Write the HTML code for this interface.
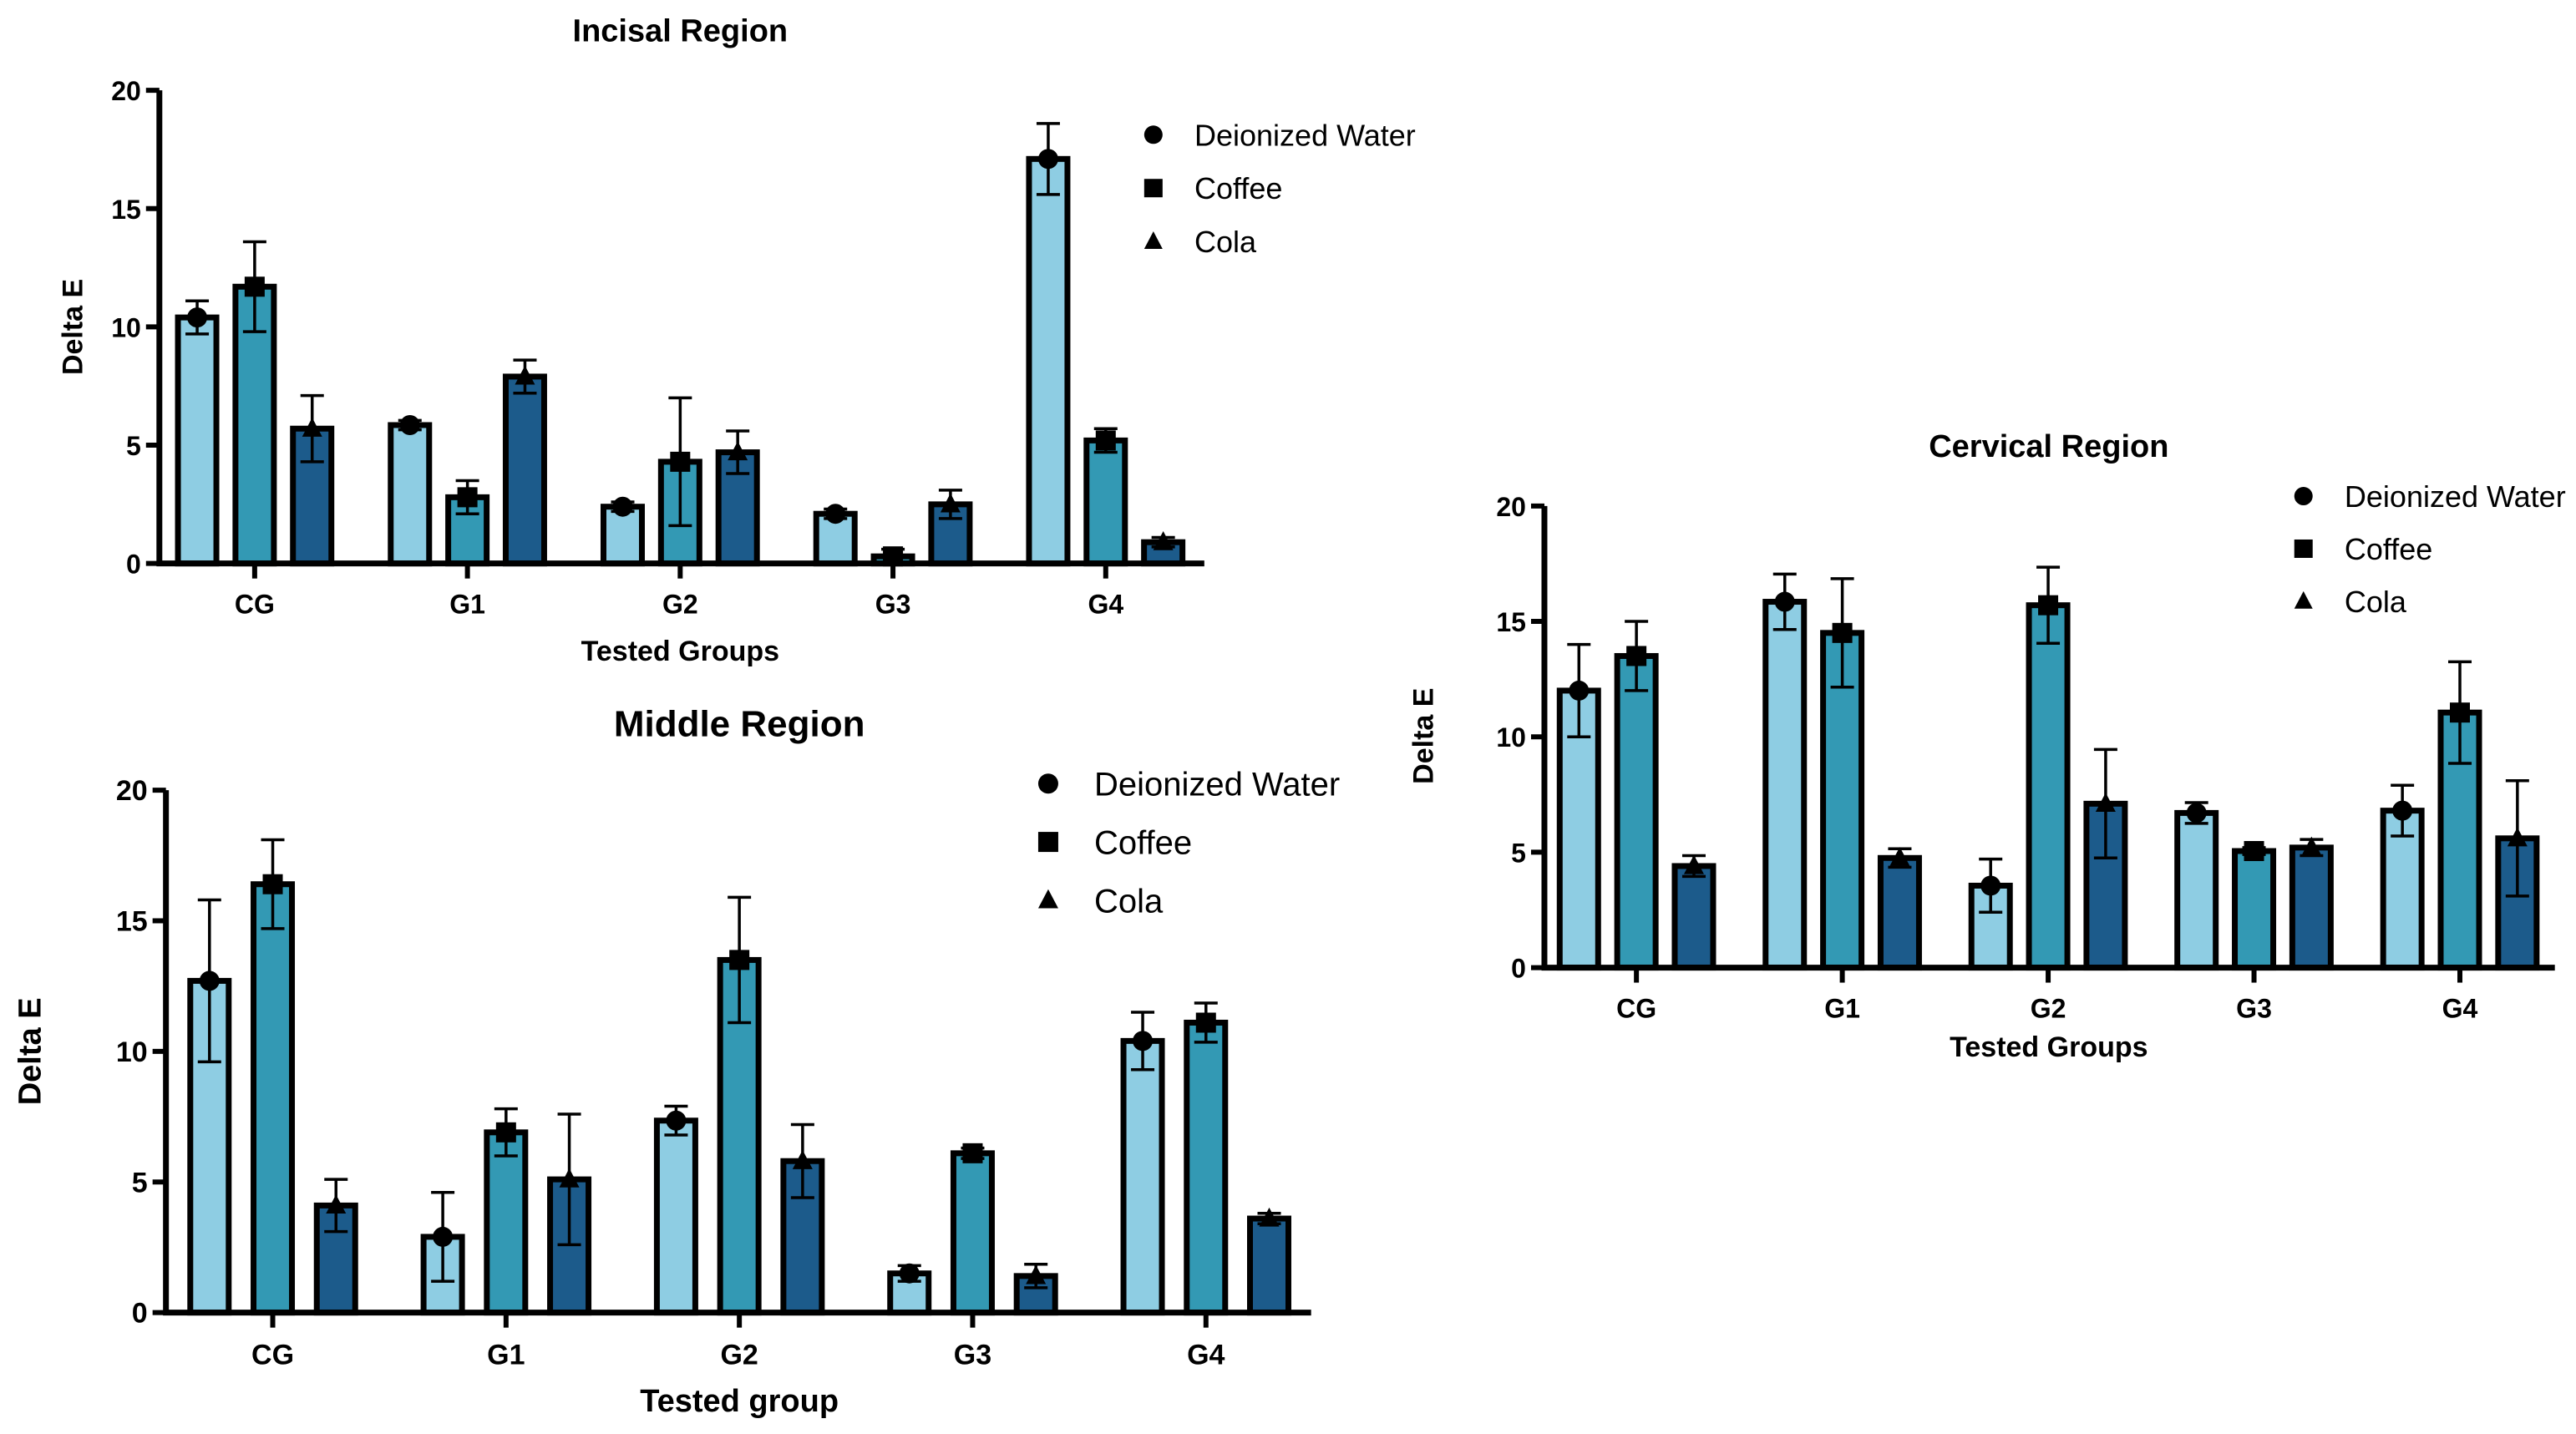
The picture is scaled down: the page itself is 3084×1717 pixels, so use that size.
<!DOCTYPE html>
<html><head><meta charset="utf-8"><style>
html,body{margin:0;padding:0;background:#fff;}
svg{display:block;}
text{font-family:"Liberation Sans Narrow","Liberation Sans",sans-serif;fill:#000;}
</style></head><body>
<svg id="fig" width="3084" height="1717" viewBox="0 0 3084 1717" xmlns="http://www.w3.org/2000/svg"></svg>
<script>
const categories = ["CG","G1","G2","G3","G4"];
const seriesNames = ["Deionized Water","Coffee","Cola"];
const yTicks = [0,5,10,15,20];
// Incisal region
const incisalWater = [10.4,5.85,2.4,2.1,17.1];
const incisalWaterErr = [0.7,0.2,0.2,0.2,1.5];
const incisalCoffee = [11.7,2.8,4.3,0.3,5.2];
const incisalCoffeeErr = [1.9,0.7,2.7,0.3,0.5];
const incisalCola = [5.7,7.9,4.7,2.5,0.9];
const incisalColaErr = [1.4,0.7,0.9,0.6,0.2];
// Middle region
const middleWater = [12.7,2.9,7.35,1.5,10.4];
const middleWaterErr = [3.1,1.7,0.55,0.3,1.1];
const middleCoffee = [16.4,6.9,13.5,6.1,11.1];
const middleCoffeeErr = [1.7,0.9,2.4,0.2,0.75];
const middleCola = [4.1,5.1,5.8,1.4,3.6];
const middleColaErr = [1.0,2.5,1.4,0.45,0.2];
// Cervical region
const cervicalWater = [12.0,15.85,3.55,6.7,6.8];
const cervicalWaterErr = [2.0,1.2,1.15,0.45,1.1];
const cervicalCoffee = [13.5,14.5,15.7,5.05,11.05];
const cervicalCoffeeErr = [1.5,2.35,1.65,0.15,2.2];
const cervicalCola = [4.4,4.75,7.1,5.2,5.6];
const cervicalColaErr = [0.45,0.4,2.35,0.35,2.5];

const NS="http://www.w3.org/2000/svg";
const fig=document.getElementById('fig');
const colors=["#8ecde3","#3399b4","#1c5b8b"];
function mk(tag,attrs,parent){const e=document.createElementNS(NS,tag);for(const k in attrs)e.setAttribute(k,attrs[k]);(parent||fig).appendChild(e);return e;}

function chart(L,prefix){
  const g=mk('g',{});
  
  
  const yS=v=>L.y0+(L.y20-L.y0)*v/20;
  const xS=i=>L.gx0+i*L.gstep;
  // bars
  L.series.forEach((s,si)=>{
    s.vals.forEach((v,i)=>{
      const cx=xS(i)+(si-1)*L.off;
      const r=mk('rect',{x:cx-L.bw/2,y:yS(v),width:L.bw,height:L.y0-yS(v),fill:colors[si],stroke:'#000','stroke-width':7},g);
      
      
      const e=s.err[i];
      const eb=mk('path',{d:`M${cx},${yS(v+e)}V${yS(Math.max(0,v-e))}M${cx-14},${yS(v+e)}h28M${cx-14},${yS(Math.max(0,v-e))}h28`,stroke:'#000','stroke-width':3.5,fill:'none'},g);
      
      
      drawMarker(si,cx,yS(v),12,g);
    });
  });
  // axes
  const ax=mk('path',{d:`M${L.xa},${L.y20}V${L.y0}H${L.xend}`,stroke:'#000','stroke-width':7,fill:'none'},g);
  
  
  yTicks.forEach(t=>{
    mk('line',{x1:L.xa-16,x2:L.xa,y1:yS(t),y2:yS(t),stroke:'#000','stroke-width':6},g);
    const tx=mk('text',{x:L.xa-22,y:yS(t)+12,'text-anchor':'end','font-size':L.tf,'font-weight':'bold'},g);
    tx.textContent=t;
    
    
  });
  categories.forEach((c,i)=>{
    mk('line',{x1:xS(i),x2:xS(i),y1:L.y0,y2:L.y0+18,stroke:'#000','stroke-width':6},g);
    const tx=mk('text',{x:xS(i),y:L.y0+L.tf+28,'text-anchor':'middle','font-size':L.tf,'font-weight':'bold'},g);
    tx.textContent=c;
    
    
  });
  const t=mk('text',{x:L.tx,y:L.ty,'text-anchor':'middle','font-size':L.titf,'font-weight':'bold'},g);
  t.textContent=L.title;
  
  
  const xt=mk('text',{x:L.tx,y:L.xty,'text-anchor':'middle','font-size':L.axf,'font-weight':'bold'},g);
  xt.textContent=L.xtitle;
  
  
  const yt=mk('text',{x:0,y:0,'text-anchor':'middle','font-size':L.axf,'font-weight':'bold',transform:`translate(${L.ytx},${L.yty}) rotate(-90)`,style:'font-family:"Liberation Sans",sans-serif'},g);
  yt.textContent='Delta E';
  
  
  seriesNames.forEach((n,si)=>{
    const lg=mk('g',{},g);
    
    
    const y=L.ly+si*L.lstep;
    drawMarker(si,L.lmx,y,L.lms,lg);
    const lt=mk('text',{x:L.ltx,y:y+L.lf*0.36,'font-size':L.lf},lg);
    lt.textContent=n;
  });
}
function drawMarker(si,x,y,r,parent){
  let m;
  if(si===0)m=mk('circle',{cx:x,cy:y,r:r,fill:'#000'},parent);
  else if(si===1)m=mk('rect',{x:x-r,y:y-r,width:2*r,height:2*r,fill:'#000'},parent);
  else m=mk('path',{d:`M${x},${y-r*1.1}L${x+r},${y+r*0.8}L${x-r},${y+r*0.8}Z`,fill:'#000'},parent);
  
  
}
const k=1.967;
chart({xa:97*k,y20:55*k,y0:343*k,xend:733*k,gx0:155*k,gstep:129.5*k,off:35*k,bw:46,
  title:'Incisal Region',tx:414*k,ty:18*k+14,titf:38,xtitle:'Tested Groups',xty:396*k+12,axf:34,
  ytx:44*k+12,yty:199*k,tf:32,ly:82*k,lstep:32.5*k,lmx:702*k,lms:11,ltx:727*k,lf:36,
  series:[{vals:incisalWater,err:incisalWaterErr},{vals:incisalCoffee,err:incisalCoffeeErr},{vals:incisalCola,err:incisalColaErr}]},'incisal');
chart({xa:101*k,y20:481*k,y0:799*k,xend:798*k,gx0:166*k,gstep:142*k,off:38.5*k,bw:46,
  title:'Middle Region',tx:450*k,ty:440*k+16,titf:44,xtitle:'Tested group',xty:852*k+14,axf:38,
  ytx:18*k+13,yty:640*k,tf:34,ly:477*k,lstep:35.5*k,lmx:638*k,lms:12,ltx:666*k,lf:40,
  series:[{vals:middleWater,err:middleWaterErr},{vals:middleCoffee,err:middleCoffeeErr},{vals:middleCola,err:middleColaErr}]},'middle');
chart({xa:940*k,y20:308*k,y0:589*k,xend:1555*k,gx0:996*k,gstep:125.3*k,off:35*k,bw:46,
  title:'Cervical Region',tx:1247*k,ty:271*k+14,titf:38,xtitle:'Tested Groups',xty:637*k+12,axf:34,
  ytx:866*k+12,yty:448*k,tf:32,ly:302*k,lstep:32*k,lmx:1402*k,lms:11,ltx:1427*k,lf:36,
  series:[{vals:cervicalWater,err:cervicalWaterErr},{vals:cervicalCoffee,err:cervicalCoffeeErr},{vals:cervicalCola,err:cervicalColaErr}]},'cervical');
</script>
</body></html>
